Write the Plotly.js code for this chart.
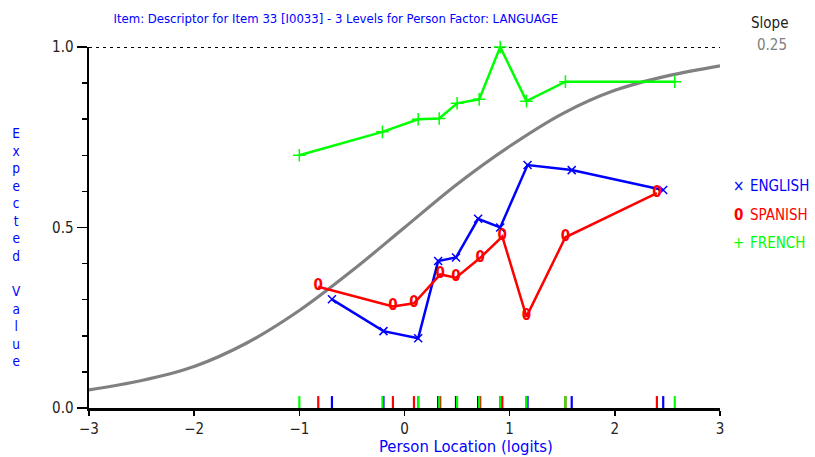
<!DOCTYPE html>
<html>
<head>
<meta charset="utf-8">
<script src="https://cdn.plot.ly/plotly-3.0.1.min.js"></script>
<style>html,body{margin:0;padding:0;background:#fff;}#chart{width:815px;height:457px;}</style>
</head>
<body>
<div id="chart"></div>
<script>
// ---- data ----
const curveX = [-3, -2.5, -2, -1.5, -1, -0.5, 0, 0.5, 1, 1.5, 2, 2.5, 3];
const curveY = [0.05, 0.076, 0.115, 0.18, 0.27, 0.38, 0.50, 0.62, 0.725, 0.815, 0.88, 0.92, 0.948];

const englishX = [-0.69, -0.20, 0.13, 0.32, 0.49, 0.70, 0.91, 1.17, 1.59, 2.46];
const englishY = [0.301, 0.213, 0.193, 0.407, 0.417, 0.524, 0.500, 0.673, 0.659, 0.604];

const spanishX = [-0.82, -0.11, 0.09, 0.34, 0.49, 0.72, 0.93, 1.16, 1.53, 2.40];
const spanishY = [0.336, 0.281, 0.290, 0.370, 0.361, 0.416, 0.475, 0.253, 0.473, 0.595];

const frenchX = [-1.00, -0.21, 0.13, 0.33, 0.50, 0.71, 0.91, 1.16, 1.53, 2.57];
const frenchY = [0.700, 0.765, 0.800, 0.802, 0.844, 0.855, 1.000, 0.850, 0.904, 0.904];

const groupNames = ['ENGLISH', 'SPANISH', 'FRENCH'];
const groupSymbols = ['\u00d7', '0', '+'];
const xTickVals = [-3, -2, -1, 0, 1, 2, 3];
const yTickVals = [0, 0.5, 1.0];
const slopeValue = '0.25';

const BLUE = '#0000ff', RED = '#ff0000', GREEN = '#00ff00', GRAY = '#808080';
const FONT = 'Liberation Sans Narrow, DejaVu Sans Condensed, Arial Narrow, Liberation Sans, sans-serif';

function rug(xs, color) {
  const x = [], y = [];
  xs.forEach(v => { x.push(v, v, null); y.push(0, 0.033, null); });
  return {x, y, mode: 'lines', line: {color, width: 2.2}, hoverinfo: 'skip', showlegend: false, cliponaxis: false};
}

const traces = [
  {x: [-3, 3], y: [1, 1], mode: 'lines', line: {color: '#000', width: 2, dash: '3px,4px'}, showlegend: false, hoverinfo: 'skip', cliponaxis: false},
  {x: curveX, y: curveY, mode: 'lines', line: {color: GRAY, width: 3.2, shape: 'spline'}, showlegend: false},
  rug(spanishX, RED),
  rug(englishX, BLUE),
  rug(frenchX, GREEN),
  {x: englishX, y: englishY, mode: 'lines+markers', name: groupNames[0],
   line: {color: BLUE, width: 2.5}, marker: {symbol: 'x-thin-open', size: 8, line: {color: BLUE, width: 1.5}, color: BLUE},
   showlegend: false, cliponaxis: false},
  {x: spanishX, y: spanishY, mode: 'lines+text', name: groupNames[1], text: spanishX.map(() => '0'),
   textposition: 'middle center', textfont: {family: FONT, size: 15, color: RED, weight: 'bold'},
   line: {color: RED, width: 2.5}, showlegend: false, cliponaxis: false},
  {x: frenchX, y: frenchY, mode: 'lines+markers', name: groupNames[2],
   line: {color: GREEN, width: 2.5}, marker: {symbol: 'cross-thin-open', size: 9, line: {color: GREEN, width: 1.5}, color: GREEN},
   showlegend: false, cliponaxis: false}
];

const yLetters = 'Expected Value'.split('').join('<br>');

const legendColors = [BLUE, RED, GREEN];
const annotations = [
  {xref: 'paper', yref: 'paper', x: -0.115, y: 0.447, xanchor: 'center', yanchor: 'middle',
   text: yLetters, showarrow: false, font: {family: FONT, size: 13.5, color: BLUE}},
  {xref: 'paper', yref: 'paper', x: 0.597, y: -0.106, xanchor: 'center', yanchor: 'middle',
   text: 'Person Location (logits)', showarrow: false, font: {family: FONT, size: 16.5, color: BLUE}},
  {xref: 'paper', yref: 'paper', x: 1.078, y: 1.067, xanchor: 'center', yanchor: 'middle',
   text: 'Slope', showarrow: false, font: {family: FONT, size: 15, color: '#222'}},
  {xref: 'paper', yref: 'paper', x: 1.082, y: 1.006, xanchor: 'center', yanchor: 'middle',
   text: slopeValue, showarrow: false, font: {family: FONT, size: 15, color: GRAY}}
];
groupNames.forEach((n, i) => {
  const yp = [0.615, 0.535, 0.458][i];
  annotations.push({xref: 'paper', yref: 'paper', x: 1.045, y: yp, xanchor: 'left', yanchor: 'middle',
    text: n, showarrow: false, font: {family: FONT, size: 15, color: legendColors[i]}});
  annotations.push({xref: 'paper', yref: 'paper', x: 1.03, y: yp, xanchor: 'center', yanchor: 'middle',
    text: i === 1 ? '<b>' + groupSymbols[i] + '</b>' : groupSymbols[i], showarrow: false,
    font: {family: FONT, size: 15, color: legendColors[i]}});
});

const layout = {
  width: 815, height: 457,
  margin: {l: 88.6, r: 95, t: 47, b: 49},
  paper_bgcolor: '#fff', plot_bgcolor: '#fff',
  showlegend: false,
  font: {family: FONT, size: 15, color: '#222'},
  title: {text: 'Item: Descriptor for Item 33 [I0033] - 3 Levels for Person Factor: LANGUAGE',
          x: 0.412, xanchor: 'center', y: 0.96, yanchor: 'middle', xref: 'container', yref: 'container',
          font: {family: FONT, size: 13, color: BLUE}},
  xaxis: {range: [-3, 3], tickvals: xTickVals, ticks: 'outside', ticklen: 5, tickwidth: 1.5, tickcolor: '#000',
          showline: true, linecolor: '#000', linewidth: 2.5, showgrid: false, zeroline: false,
          tickfont: {family: FONT, size: 15, color: '#222'}},
  yaxis: {range: [0, 1], tickvals: yTickVals, tickformat: '.1f', ticks: 'outside', ticklen: 10, tickwidth: 1.5, tickcolor: '#000',
          minor: {dtick: 0.1, ticks: 'outside', ticklen: 5, tickwidth: 1.5, tickcolor: '#000'},
          showline: true, linecolor: '#000', linewidth: 2.5, showgrid: false, zeroline: false,
          tickfont: {family: FONT, size: 15, color: '#222'}},
  annotations
};

Plotly.newPlot('chart', traces, layout, {displayModeBar: false, staticPlot: true});
</script>
</body>
</html>
